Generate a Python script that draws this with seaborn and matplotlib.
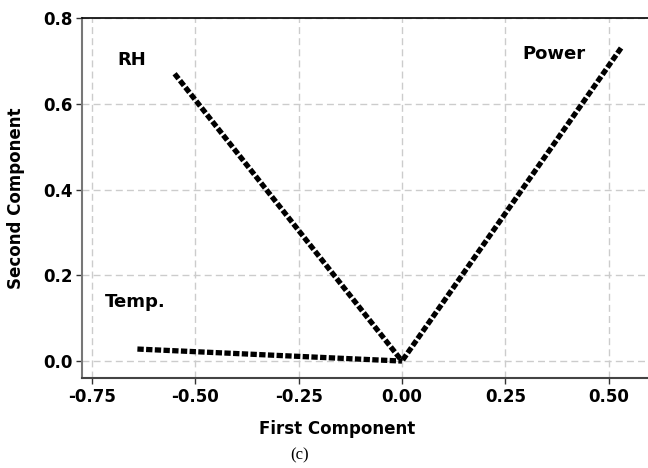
"""
PCA loading plot, first vs second component (panel c).
"""
import numpy  as np
import pandas as pd

import matplotlib
matplotlib.use("Agg")
import matplotlib.pyplot as plt
import seaborn           as sns

# ================================================================================
# Data: loadings of each variable on the first two components
# ================================================================================
variables = ["Temp.", "RH", "Power"]
first     = [-0.64, -0.55, 0.53]
second    = [0.028, 0.67, 0.73]

x_ticks = [-0.75, -0.50, -0.25, 0.00, 0.25, 0.50]
y_ticks = [0.0, 0.2, 0.4, 0.6, 0.8]

# ================================================================================
# Plot
# ================================================================================
sns.set_theme(style="white")
plt.rcParams["font.family"] = ["DejaVu Sans"]
plt.rcParams["text.color"]  = "black"

fig = plt.figure(figsize=(6.48, 4.68), dpi=100)
ax  = fig.add_axes([82 / 648, 90 / 468, 568 / 648, 360 / 468])

for var, fx, sy in zip(variables, first, second):
    df = pd.DataFrame({"x": [fx, 0.0], "y": [sy, 0.0]})
    sns.lineplot(
        data=df, x="x", y="y", sort=False, ax=ax, color="black",
        linewidth=3.8, dashes=False, legend=False,
    )
    ax.lines[-1].set_dashes((1.2, 0.45))
    ax.lines[-1].set_dash_capstyle("butt")

# label offsets relative to each loading end point (layout only)
label_pos = {"Temp.": (-0.004, 0.109), "RH": (-0.104, 0.032), "Power": (-0.162, -0.014)}
for var, fx, sy in zip(variables, first, second):
    dx, dy = label_pos[var]
    ax.text(fx + dx, sy + dy, var, ha="center", va="center",
            fontsize=13, fontweight="bold", color="black")

ax.set_xlim(-0.774, 0.600)
ax.set_ylim(-0.0395, 0.8)
ax.set_xticks(x_ticks)
ax.set_yticks(y_ticks)
ax.set_xticklabels([f"{t:.2f}" for t in x_ticks])
ax.set_yticklabels([f"{t:.1f}" for t in y_ticks])
ax.tick_params(axis="both", labelsize=12, length=4, width=1, color="#333333",
               labelcolor="black", direction="out", bottom=True, left=True, pad=3)
for lbl in ax.get_xticklabels() + ax.get_yticklabels():
    lbl.set_fontweight("bold")

ax.grid(True, linestyle=(0, (5, 3)), color="#cccccc", linewidth=1)

ax.spines["left"].set_color("#777777")
ax.spines["left"].set_linewidth(1.5)
ax.spines["bottom"].set_color("#444444")
ax.spines["bottom"].set_linewidth(1.5)
ax.spines["top"].set_color("black")
ax.spines["top"].set_linewidth(1.2)
ax.spines["right"].set_visible(False)

ax.set_xlabel("First Component", fontsize=12, fontweight="bold", color="black")
ax.set_ylabel("Second Component", fontsize=12, fontweight="bold", color="black")
ax.xaxis.set_label_coords(0.449, -0.118)
ax.yaxis.set_label_coords(-0.100, 0.5)

fig.text(300 / 648, 1 - 455 / 468, "(c)", ha="center", va="center",
         fontsize=12, family="Liberation Serif", color="black")

fig.savefig("out.png", dpi=100)
